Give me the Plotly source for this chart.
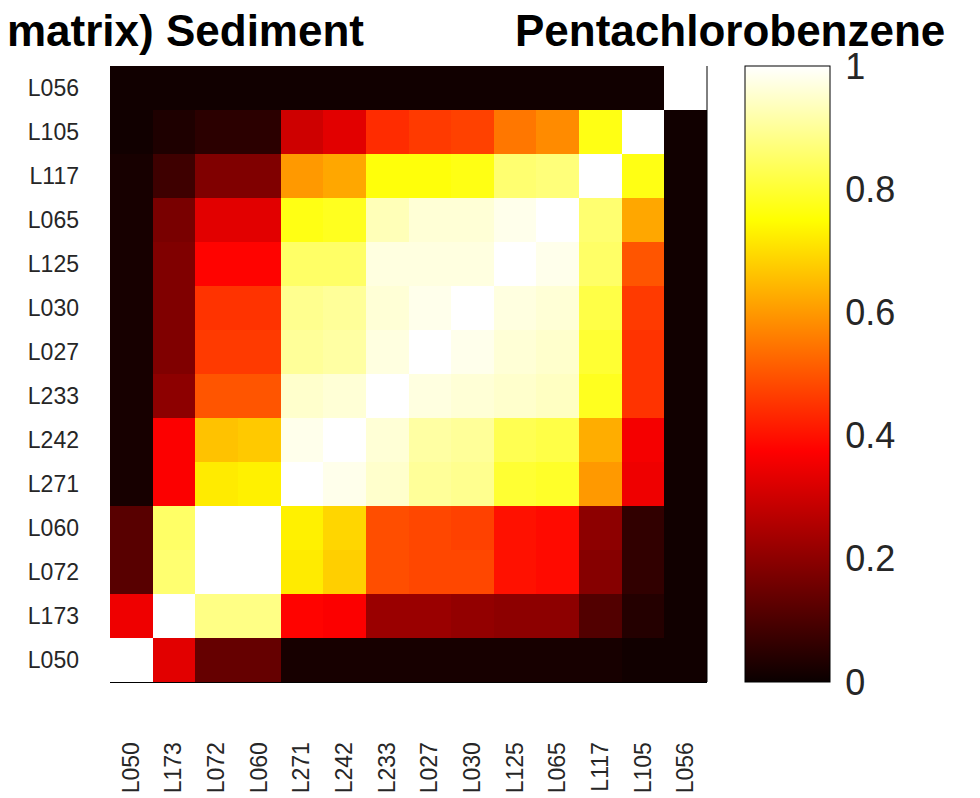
import plotly.graph_objects as go

labels = ["L050", "L173", "L072", "L060", "L271", "L242", "L233",
          "L027", "L030", "L125", "L065", "L117", "L105", "L056"]

# rows listed bottom (L050) to top (L056); columns left (L050) to right (L056)
row_L050 = [1.00, 0.33, 0.14, 0.14, 0.02, 0.02, 0.02, 0.02, 0.02, 0.02, 0.02, 0.02, 0.01, 0.01]
row_L173 = [0.35, 1.00, 0.88, 0.88, 0.38, 0.37, 0.22, 0.22, 0.21, 0.20, 0.20, 0.11, 0.04, 0.01]
row_L072 = [0.12, 0.86, 1.00, 1.00, 0.72, 0.68, 0.49, 0.48, 0.48, 0.40, 0.39, 0.19, 0.06, 0.01]
row_L060 = [0.12, 0.85, 1.00, 1.00, 0.73, 0.69, 0.49, 0.48, 0.47, 0.40, 0.39, 0.20, 0.06, 0.01]
row_L271 = [0.02, 0.37, 0.72, 0.73, 1.00, 0.98, 0.95, 0.90, 0.89, 0.80, 0.79, 0.60, 0.35, 0.01]
row_L242 = [0.02, 0.37, 0.66, 0.67, 0.98, 1.00, 0.96, 0.91, 0.90, 0.83, 0.82, 0.63, 0.36, 0.01]
row_L233 = [0.02, 0.20, 0.50, 0.50, 0.95, 0.96, 1.00, 0.97, 0.96, 0.95, 0.94, 0.78, 0.45, 0.01]
row_L027 = [0.02, 0.18, 0.46, 0.46, 0.90, 0.91, 0.97, 1.00, 0.98, 0.96, 0.95, 0.80, 0.45, 0.01]
row_L030 = [0.02, 0.18, 0.45, 0.45, 0.89, 0.90, 0.96, 0.98, 1.00, 0.97, 0.96, 0.82, 0.46, 0.01]
row_L125 = [0.02, 0.18, 0.38, 0.38, 0.85, 0.85, 0.97, 0.97, 0.97, 1.00, 0.98, 0.85, 0.50, 0.01]
row_L065 = [0.02, 0.17, 0.33, 0.33, 0.77, 0.78, 0.93, 0.96, 0.96, 0.98, 1.00, 0.86, 0.62, 0.01]
row_L117 = [0.02, 0.08, 0.18, 0.18, 0.60, 0.62, 0.76, 0.76, 0.77, 0.86, 0.87, 1.00, 0.77, 0.01]
row_L105 = [0.01, 0.03, 0.05, 0.05, 0.30, 0.33, 0.44, 0.46, 0.47, 0.55, 0.58, 0.77, 1.00, 0.01]
row_L056 = [0.01, 0.01, 0.01, 0.01, 0.01, 0.01, 0.01, 0.01, 0.01, 0.01, 0.01, 0.01, 0.01, 1.00]

z = [row_L050, row_L173, row_L072, row_L060, row_L271, row_L242, row_L233,
     row_L027, row_L030, row_L125, row_L065, row_L117, row_L105, row_L056]

cbar_ticks = [0, 0.2, 0.4, 0.6, 0.8, 1]
cbar_text = ["0", "0.2", "0.4", "0.6", "0.8", "1"]

hot = [[0.0, "rgb(10,0,0)"], [0.375, "rgb(255,0,0)"],
       [0.75, "rgb(255,255,0)"], [1.0, "rgb(255,255,255)"]]

# page body adds an 8px offset; figure is sized so the visible layout matches
OFF = 8
W, H = 980 - OFF, 798 - OFF
L, T = 110 - OFF, 66 - OFF
pw, ph = 597, 616
R, B = W - L - pw, H - T - ph

def px(x):
    return (x - OFF - L) / pw

def py(y):
    return (T + ph - (y - OFF)) / ph

fig = go.Figure(go.Heatmap(
    x=labels, y=labels, z=z, zmin=0, zmax=1, colorscale=hot,
    colorbar=dict(
        x=px(745), xanchor="left", xpad=0, ypad=0,
        y=0.5, yanchor="middle", len=1, lenmode="fraction",
        thickness=85, outlinecolor="black", outlinewidth=1,
        tickvals=cbar_ticks, ticktext=cbar_text,
        ticks="outside", ticklen=8, tickcolor="rgba(0,0,0,0)",
        tickfont=dict(size=36, color="#262626", family="Liberation Sans, Arial"),
    ),
))

fig.update_layout(
    width=W, height=H,
    margin=dict(l=L, r=R, t=T, b=B, autoexpand=False),
    plot_bgcolor="white", paper_bgcolor="white",
    font=dict(family="Liberation Sans, Arial", color="#262626"),
    showlegend=False,
)
fig.update_xaxes(
    type="category", tickangle=-90, ticks="",
    tickfont=dict(size=23, color="#262626"),
    ticklabelstandoff=50,
    showline=True, linecolor="black", linewidth=1,
    showgrid=False, zeroline=False, automargin=False,
)
fig.update_yaxes(
    type="category", ticks="",
    tickfont=dict(size=23, color="#262626"),
    ticklabelstandoff=30,
    showline=False, showgrid=False, zeroline=False, automargin=False,
)
fig.add_shape(type="line", xref="paper", yref="paper", x0=1, x1=1, y0=0, y1=1,
              line=dict(color="black", width=1))
# small inside tick marks on the colour bar's right edge
for v in cbar_ticks[1:-1]:
    fig.add_shape(type="line", xref="paper", yref="paper",
                  x0=px(824), x1=px(830), y0=v, y1=v,
                  line=dict(color="#262626", width=1))

fig.add_annotation(text="<b>matrix) Sediment</b>", xref="paper", yref="paper",
                   x=px(5), y=py(31), xanchor="left", yanchor="middle",
                   showarrow=False, font=dict(size=44, color="black"))
fig.add_annotation(text="<b>Pentachlorobenzene</b>", xref="paper", yref="paper",
                   x=px(730), y=py(31), xanchor="center", yanchor="middle",
                   showarrow=False, font=dict(size=44, color="black"))

fig.write_html("out.html")
